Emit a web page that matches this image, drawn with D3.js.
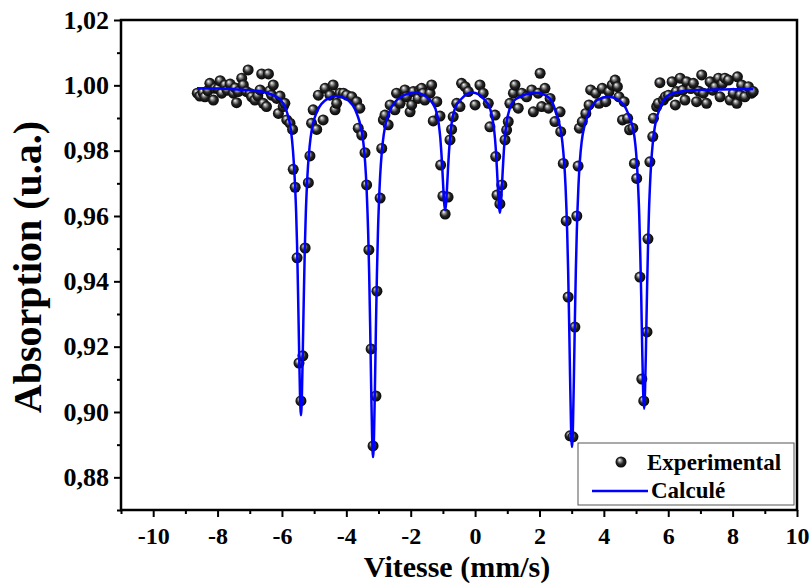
<!DOCTYPE html>
<html>
<head>
<meta charset="utf-8">
<script src="https://cdn.jsdelivr.net/npm/d3@7"></script>
<style>
  body { margin: 0; background: #fff; }
  text { font-family: "Liberation Serif", "Times New Roman", serif; font-weight: bold; fill: #000; }
</style>
</head>
<body>
<div class="svgContainer"></div>
<script>
/* experimental points: velocity (mm/s) and absorption (u.a.) */
var expVelocity = [-8.63, -8.55, -8.45, -8.39, -8.30, -8.24, -8.13, -8.08, -7.98, -7.92, -7.87, -7.77, -7.70, -7.61, -7.51,
  -7.45, -7.41, -7.36, -7.25, -7.20, -7.10, -7.05, -6.99, -6.94, -6.84, -6.75, -6.68, -6.63, -6.58, -6.48, -6.42, -6.38,
  -6.32, -6.27, -6.16, -6.11, -6.06, -5.96, -5.91, -5.85, -5.75, -5.67, -5.65, -5.59, -5.53, -5.47, -5.41, -5.35, -5.28,
  -5.18, -5.13, -5.08, -5.03, -4.92, -4.87, -4.72, -4.66, -4.51, -4.41, -4.35, -4.30, -4.20, -4.09, -3.99, -3.83, -3.68,
  -3.63, -3.58, -3.52, -3.42, -3.37, -3.30, -3.23, -3.17, -3.08, -3.05, -2.95, -2.90, -2.85, -2.80, -2.70, -2.64, -2.49,
  -2.44, -2.33, -2.18, -2.13, -2.02, -1.97, -1.92, -1.77, -1.72, -1.66, -1.61, -1.56, -1.40, -1.35, -1.30, -1.19, -1.09,
  -1.07, -1.00, -0.93, -0.84, -0.78, -0.73, -0.68, -0.57, -0.47, -0.42, -0.31, -0.21, 0.00, 0.15, 0.25, 0.41, 0.46, 0.62,
  0.64, 0.68, 0.77, 0.83, 0.93, 0.98, 1.03, 1.08, 1.19, 1.24, 1.34, 1.45, 1.60, 1.76, 1.81, 1.96, 2.02, 2.07, 2.17, 2.28,
  2.33, 2.48, 2.64, 2.66, 2.74, 2.83, 2.89, 2.95, 3.04, 3.10, 3.16, 3.20, 3.24, 3.33, 3.44, 3.54, 3.59, 3.75, 3.85, 3.95,
  4.06, 4.16, 4.26, 4.35, 4.42, 4.47, 4.58, 4.63, 4.74, 4.80, 4.90, 4.95, 5.02, 5.12, 5.18, 5.24, 5.34, 5.37, 5.43, 5.52,
  5.54, 5.64, 5.69, 5.74, 5.85, 5.91, 6.01, 6.12, 6.22, 6.25, 6.37, 6.45, 6.52, 6.57, 6.70, 6.78, 6.88, 6.95, 7.04, 7.09,
  7.19, 7.30, 7.38, 7.45, 7.56, 7.61, 7.68, 7.76, 7.87, 7.92, 8.02, 8.13, 8.15, 8.23, 8.28, 8.38, 8.49, 8.59, 8.64];
var expAbsorption = [0.9976, 0.9967, 0.9978, 0.9965, 0.9984, 1.0006, 0.9955, 0.9991, 0.9990, 1.0014, 0.9976, 1.0001, 0.9985,
  1.0004, 0.9976, 0.9992, 0.9947, 0.9981, 1.0022, 1.0001, 0.9981, 1.0047, 0.9975, 0.9965, 0.9955, 0.9968, 0.9986, 1.0035,
  0.9945, 0.9935, 1.0035, 0.9983, 0.9970, 1.0001, 0.9960, 0.9914, 0.9967, 0.9935, 0.9945, 0.9894, 0.9884, 0.9865, 0.9743,
  0.9688, 0.9472, 0.9150, 0.9034, 0.9172, 0.9502, 0.9702, 0.9784, 0.9884, 0.9925, 0.9865, 0.9970, 0.9894, 0.9991, 0.9970,
  1.0001, 0.9925, 0.9945, 0.9976, 0.9976, 0.9970, 0.9965, 0.9950, 0.9869, 0.9930, 0.9848, 0.9794, 0.9695, 0.9496, 0.9193,
  0.8896, 0.9049, 0.9370, 0.9655, 0.9807, 0.9894, 0.9909, 0.9879, 0.9940, 0.9925, 0.9976, 0.9945, 0.9986, 0.9965, 0.9919,
  0.9940, 0.9981, 0.9960, 0.9986, 0.9991, 0.9976, 0.9955, 0.9976, 1.0001, 0.9891, 0.9950, 0.9906, 0.9756, 0.9661, 0.9606,
  0.9658, 0.9833, 0.9865, 0.9904, 0.9945, 0.9935, 1.0006, 0.9996, 0.9981, 0.9940, 1.0001, 0.9976, 0.9945, 0.9873, 0.9909,
  0.9782, 0.9664, 0.9637, 0.9695, 0.9833, 0.9863, 0.9889, 0.9945, 0.9976, 1.0001, 0.9930, 0.9976, 0.9965, 0.9986, 0.9919,
  0.9976, 1.0037, 0.9935, 0.9991, 0.9930, 0.9960, 0.9889, 0.9919, 0.9858, 0.9761, 0.9585, 0.9352, 0.8927, 0.8924, 0.9260,
  0.9600, 0.9753, 0.9869, 0.9889, 0.9914, 0.9940, 0.9986, 0.9976, 0.9945, 0.9991, 0.9950, 0.9981, 1.0001, 1.0016, 0.9996,
  0.9965, 0.9894, 0.9950, 0.9899, 0.9864, 0.9869, 0.9761, 0.9715, 0.9413, 0.9101, 0.9034, 0.9245, 0.9530, 0.9766, 0.9843,
  0.9899, 0.9935, 0.9945, 1.0008, 0.9955, 0.9965, 0.9970, 1.0011, 0.9940, 0.9981, 1.0022, 0.9985, 0.9955, 1.0011, 0.9990,
  1.0006, 0.9950, 0.9982, 1.0032, 0.9976, 0.9945, 1.0011, 0.9985, 0.9996, 1.0022, 0.9965, 1.0005, 1.0022, 1.0016, 0.9955,
  0.9976, 0.9945, 1.0026, 0.9970, 1.0001, 0.9965, 0.9996, 0.9976, 0.9981];

/* fitted curve (Calculé) */
var fitVelocity = [-8.64, -8.0, -7.5, -7.0, -6.5, -6.2, -6.06, -5.91, -5.71, -5.61, -5.56, -5.53, -5.50, -5.47, -5.44,
  -5.41, -5.38, -5.35, -5.32, -5.29, -5.26, -5.21, -5.11, -4.91, -4.6, -4.29, -4.0, -3.67, -3.47, -3.37, -3.32, -3.29,
  -3.26, -3.23, -3.20, -3.17, -3.14, -3.11, -3.08, -3.05, -3.02, -2.97, -2.87, -2.67, -2.3, -1.85, -1.43, -1.23, -1.13,
  -1.08, -1.05, -1.02, -0.99, -0.96, -0.93, -0.90, -0.87, -0.84, -0.81, -0.78, -0.73, -0.63, -0.43, -0.08, 0.27, 0.47,
  0.57, 0.62, 0.65, 0.68, 0.71, 0.74, 0.77, 0.80, 0.83, 0.86, 0.89, 0.92, 0.97, 1.07, 1.27, 1.89, 2.3, 2.51, 2.71, 2.81,
  2.86, 2.89, 2.92, 2.95, 2.98, 3.01, 3.04, 3.07, 3.10, 3.13, 3.16, 3.21, 3.31, 3.51, 3.8, 4.13, 4.45, 4.75, 4.95, 5.05,
  5.10, 5.13, 5.16, 5.19, 5.22, 5.25, 5.28, 5.31, 5.34, 5.37, 5.40, 5.45, 5.55, 5.75, 6.05, 6.5, 7.0, 7.5, 8.0, 8.64];
var fitAbsorption = [0.9991, 0.9990, 0.9988, 0.9985, 0.9978, 0.9966, 0.9957, 0.9935, 0.9854, 0.9726, 0.9613, 0.9510,
  0.9365, 0.9205, 0.9055, 0.8990, 0.9052, 0.9200, 0.9358, 0.9500, 0.9605, 0.9720, 0.9840, 0.9920, 0.9958, 0.9967, 0.9958,
  0.9912, 0.9824, 0.9682, 0.9543, 0.9420, 0.9264, 0.9085, 0.8928, 0.8862, 0.8928, 0.9085, 0.9264, 0.9420, 0.9543, 0.9682,
  0.9824, 0.9917, 0.9965, 0.9977, 0.9958, 0.9928, 0.9883, 0.9838, 0.9798, 0.9748, 0.9690, 0.9639, 0.9618, 0.9639, 0.9690,
  0.9748, 0.9798, 0.9838, 0.9883, 0.9928, 0.9958, 0.9978, 0.9958, 0.9927, 0.9880, 0.9835, 0.9794, 0.9742, 0.9683, 0.9632,
  0.9610, 0.9632, 0.9683, 0.9742, 0.9794, 0.9835, 0.9880, 0.9927, 0.9958, 0.9977, 0.9962, 0.9918, 0.9827, 0.9690, 0.9554,
  0.9435, 0.9283, 0.9110, 0.8957, 0.8893, 0.8957, 0.9110, 0.9283, 0.9435, 0.9554, 0.9690, 0.9827, 0.9910, 0.9955, 0.9965,
  0.9955, 0.9915, 0.9842, 0.9720, 0.9600, 0.9490, 0.9358, 0.9200, 0.9065, 0.9010, 0.9068, 0.9205, 0.9365, 0.9500, 0.9610,
  0.9728, 0.9850, 0.9932, 0.9972, 0.9983, 0.9986, 0.9987, 0.9988, 0.9988];

/* axis ticks */
var xMajor = [-10, -8, -6, -4, -2, 0, 2, 4, 6, 8, 10];
var xMinor = [-11, -9, -7, -5, -3, -1, 1, 3, 5, 7, 9];
var yMajor = [0.88, 0.90, 0.92, 0.94, 0.96, 0.98, 1.00, 1.02];
var yMinor = [0.87, 0.89, 0.91, 0.93, 0.95, 0.97, 0.99, 1.01];
var legendLabels = ["Experimental", "Calculé"];

function drawChart() {
  var canvas_width = 810,
      canvas_height = 583;
  var plotLeft = 121, plotRight = 797, plotTop = 20, plotBottom = 510;

  var svg = d3.select(".svgContainer")
    .append("svg")
      .attr("width", canvas_width)
      .attr("height", canvas_height);

  /* shaded ball marker */
  var grad = svg.append("defs").append("radialGradient")
    .attr("id", "ball")
    .attr("cx", "50%").attr("cy", "50%").attr("r", "55%")
    .attr("fx", "35%").attr("fy", "30%");
  grad.append("stop").attr("offset", "0%").attr("stop-color", "#ffffff");
  grad.append("stop").attr("offset", "22%").attr("stop-color", "#a0a0a0");
  grad.append("stop").attr("offset", "55%").attr("stop-color", "#262626");
  grad.append("stop").attr("offset", "100%").attr("stop-color", "#000000");

  var x = d3.scaleLinear().domain([-11, 10]).range([plotLeft, plotRight]);
  var y = d3.scaleLinear().domain([0.87, 1.02]).range([plotBottom, plotTop]);

  /* minor ticks first */
  svg.append("g")
    .attr("transform", "translate(0," + plotBottom + ")")
    .call(d3.axisBottom(x).tickValues(xMinor).tickSize(4).tickFormat("").tickSizeOuter(0));
  svg.append("g")
    .attr("transform", "translate(" + plotLeft + ",0)")
    .call(d3.axisLeft(y).tickValues(yMinor).tickSize(4).tickFormat("").tickSizeOuter(0));

  /* major ticks with labels */
  var xAxis = svg.append("g")
    .attr("transform", "translate(0," + plotBottom + ")")
    .call(d3.axisBottom(x).tickValues(xMajor).tickSize(7).tickPadding(10).tickSizeOuter(0)
      .tickFormat(function(d) { return String(d); }));
  var yAxis = svg.append("g")
    .attr("transform", "translate(" + plotLeft + ",0)")
    .call(d3.axisLeft(y).tickValues(yMajor).tickSize(7).tickPadding(5).tickSizeOuter(0)
      .tickFormat(function(d) { return d3.format(".2f")(d).replace(".", ","); }));

  svg.selectAll(".tick line").attr("stroke", "#000").attr("stroke-width", 2);
  svg.selectAll(".domain").remove();
  xAxis.selectAll(".tick text")
    .attr("font-size", 24)
    .attr("font-family", "Liberation Serif")
    .attr("font-weight", "bold");
  yAxis.selectAll(".tick text")
    .attr("font-size", 26)
    .attr("font-family", "Liberation Serif")
    .attr("font-weight", "bold");

  /* frame */
  svg.append("rect")
    .attr("x", plotLeft).attr("y", plotTop)
    .attr("width", plotRight - plotLeft).attr("height", plotBottom - plotTop)
    .attr("fill", "none").attr("stroke", "#000").attr("stroke-width", 2.5);

  /* axis titles */
  svg.append("text")
    .attr("x", (plotLeft + plotRight) / 2 - 2)
    .attr("y", 577)
    .attr("text-anchor", "middle")
    .attr("font-size", 30)
    .text("Vitesse (mm/s)");
  svg.append("text")
    .attr("transform", "translate(41," + ((plotTop + plotBottom) / 2 + 2) + ") rotate(-90)")
    .attr("text-anchor", "middle")
    .attr("font-size", 40)
    .text("Absorption (u.a.)");

  /* experimental points */
  var points = expVelocity.map(function(v, i) { return [v, expAbsorption[i]]; });
  svg.append("g")
    .selectAll("circle")
    .data(points)
    .enter()
      .append("circle")
        .attr("cx", function(d) { return x(d[0]); })
        .attr("cy", function(d) { return y(d[1]); })
        .attr("r", 5.5)
        .attr("fill", "url(#ball)");

  /* fitted line */
  var fit = fitVelocity.map(function(v, i) { return [v, fitAbsorption[i]]; });
  svg.append("path")
    .datum(fit)
    .attr("fill", "none")
    .attr("stroke", "#0000ff")
    .attr("stroke-width", 2.5)
    .attr("d", d3.line()
      .x(function(d) { return x(d[0]); })
      .y(function(d) { return y(d[1]); })
      .curve(d3.curveMonotoneX));

  /* legend */
  var legend = svg.append("g").attr("transform", "translate(578,443)");
  legend.append("rect")
    .attr("width", 216).attr("height", 62)
    .attr("fill", "#fff").attr("stroke", "#555").attr("stroke-width", 1);
  legend.append("circle")
    .attr("cx", 43).attr("cy", 19).attr("r", 5.5).attr("fill", "url(#ball)");
  legend.append("line")
    .attr("x1", 14).attr("x2", 70).attr("y1", 48).attr("y2", 48)
    .attr("stroke", "#0000ff").attr("stroke-width", 2.5);
  legend.selectAll("text.lab")
    .data(legendLabels)
    .enter()
      .append("text")
        .attr("class", "lab")
        .attr("x", function(d, i) { return i == 0 ? 69 : 73; })
        .attr("y", function(d, i) { return 27 + i * 28; })
        .attr("font-size", 23)
        .text(function(d) { return d; });
}

drawChart();
</script>
</body>
</html>
